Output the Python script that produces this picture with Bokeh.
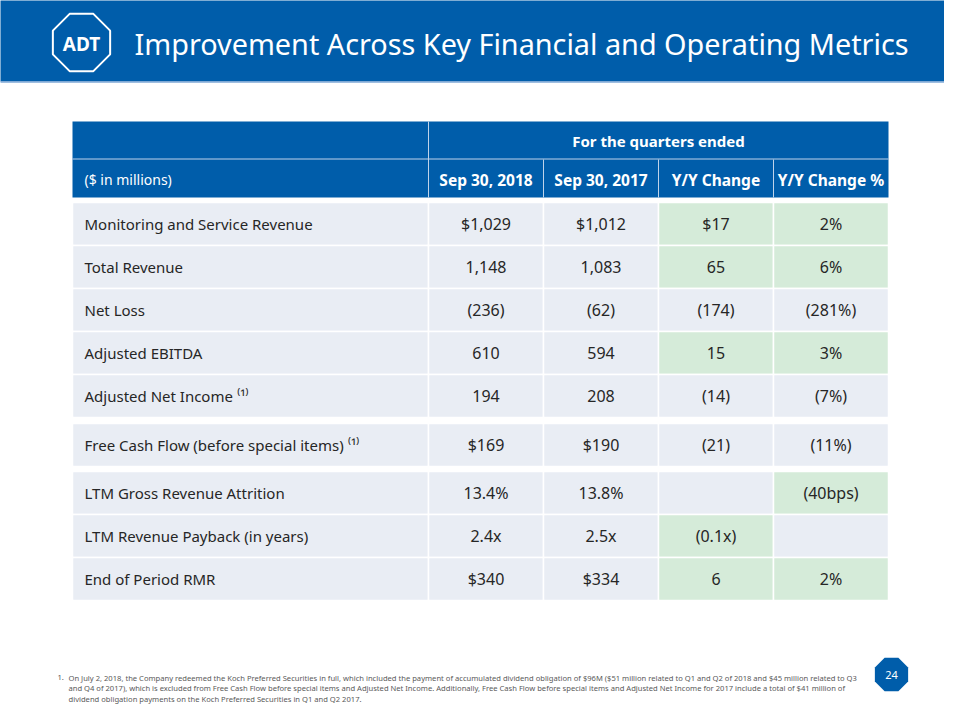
import numpy as np
from bokeh.plotting import figure
from bokeh.models import Range1d, ColumnDataSource
from bokeh.core.properties import value
from bokeh.embed import file_html
from bokeh.resources import INLINE

# ---------------- data ----------------
title = "Improvement Across Key Financial and Operating Metrics"
group_header = "For the quarters ended"
unit_label = "($ in millions)"
col_headers = ["Sep 30, 2018", "Sep 30, 2017", "Y/Y Change", "Y/Y Change %"]
metrics = ["Monitoring and Service Revenue", "Total Revenue", "Net Loss",
           "Adjusted EBITDA", "Adjusted Net Income", "Free Cash Flow (before special items)",
           "LTM Gross Revenue Attrition", "LTM Revenue Payback (in years)", "End of Period RMR"]
note_ref = ["", "", "", "", "(1)", "(1)", "", "", ""]
sep_2018 = ["$1,029", "1,148", "(236)", "610", "194", "$169", "13.4%", "2.4x", "$340"]
sep_2017 = ["$1,012", "1,083", "(62)", "594", "208", "$190", "13.8%", "2.5x", "$334"]
yy_change = ["$17", "65", "(174)", "15", "(14)", "(21)", "", "(0.1x)", "6"]
yy_change_pct = ["2%", "6%", "(281%)", "3%", "(7%)", "(11%)", "(40bps)", "", "2%"]
yy_change_green = [True, True, False, True, False, False, False, True, True]
yy_pct_green = [True, True, False, True, False, False, True, False, True]
row_group = [0, 0, 0, 0, 0, 1, 2, 2, 2]
page_number = "24"
footnote_lines = [
    "On July 2, 2018, the Company redeemed the Koch Preferred Securities in full, which included the payment of accumulated dividend obligation of $96M ($51 million related to Q1 and Q2 of 2018 and $45 million related to Q3",
    "and Q4 of 2017), which is excluded from Free Cash Flow before special items and Adjusted Net Income. Additionally, Free Cash Flow before special items and Adjusted Net Income for 2017 include a total of $41 million of",
    "dividend obligation payments on the Koch Preferred Securities in Q1 and Q2 2017.",
]

# ---------------- style / layout ----------------
FONT = "Noto Sans"
BLUE = "#005DAA"
GRAY = "#E9EDF4"
GREEN = "#D5EBD9"
TXT = "#262626"
col_edges = [72, 428, 543, 658, 773, 888]
head1 = (121, 158)
head2 = (159, 197)
group_starts = [202, 423, 471]
row_h = 43

p = figure(width=944, height=704, x_range=Range1d(0, 944), y_range=Range1d(704, 0),
           output_backend="svg", toolbar_location=None, min_border=0,
           background_fill_color="white", border_fill_color="white")
p.axis.visible = False
p.grid.visible = False
p.outline_line_color = None

# header band
p.quad(left=[-10], right=[980], top=[-10], bottom=[81], fill_color=BLUE, line_color=None)
p.segment(x0=[-10], x1=[980], y0=[81.5], y1=[81.5], line_color="#7FA9D6", line_width=1.5)

def octagon(cx, cy, r):
    ang = np.deg2rad(22.5 + 45 * np.arange(8))
    return cx + r * np.cos(ang), cy + r * np.sin(ang)

lx, ly = octagon(81, 42, 31)
p.patch(lx, ly, fill_color=None, line_color="white", line_width=2)
p.text(x=[81], y=[43], text=["ADT"], text_color="white", text_font=value("Noto Sans"),
       text_font_style="bold", text_font_size="19px", text_align="center",
       text_baseline="middle")
p.text(x=[134], y=[43], text=[title], text_color="white", text_font=value(FONT),
       text_font_size="28.8px", text_align="left", text_baseline="middle")

# table header
p.quad(left=[col_edges[0]], right=[col_edges[-1]], top=[head1[0]], bottom=[head2[1]],
       fill_color=BLUE, line_color=None)
p.segment(x0=[col_edges[0]], x1=[col_edges[-1]], y0=[158.5], y1=[158.5],
          line_color="#BFD3EA", line_width=1)
p.segment(x0=[col_edges[1]], x1=[col_edges[1]], y0=[head1[0]], y1=[head2[1]],
          line_color="#BFD3EA", line_width=1)
p.segment(x0=col_edges[2:5], x1=col_edges[2:5], y0=[head2[0]] * 3, y1=[head2[1]] * 3,
          line_color="#BFD3EA", line_width=1)
p.text(x=[(col_edges[1] + col_edges[-1]) / 2], y=[140], text=[group_header],
       text_color="white", text_font=value(FONT), text_font_style="bold",
       text_font_size="15px", text_align="center", text_baseline="middle")
p.text(x=[84], y=[179], text=[unit_label], text_color="white", text_font=value(FONT),
       text_font_size="14px", text_align="left", text_baseline="middle")
hx = [(col_edges[i] + col_edges[i + 1]) / 2 for i in range(1, 5)]
p.text(x=hx, y=[179] * 4, text=col_headers, text_color="white", text_font=value(FONT),
       text_font_style="bold", text_font_size="15.5px", text_align="center",
       text_baseline="middle")

# body rows
tops, bottoms = [], []
idx_in_group = {}
for i, g in enumerate(row_group):
    k = idx_in_group.get(g, 0)
    idx_in_group[g] = k + 1
    t = group_starts[g] + k * row_h
    tops.append(t)
    bottoms.append(t + row_h)

cl, cr, ct, cb, cf = [], [], [], [], []
for i in range(len(metrics)):
    greens = [False, False, False, yy_change_green[i], yy_pct_green[i]]
    for c in range(5):
        cl.append(col_edges[c]); cr.append(col_edges[c + 1])
        ct.append(tops[i]); cb.append(bottoms[i])
        cf.append(GREEN if greens[c] else GRAY)
p.quad(source=ColumnDataSource(dict(l=cl, r=cr, t=ct, b=cb, f=cf)),
       left="l", right="r", top="t", bottom="b", fill_color="f",
       line_color="white", line_width=1.5)

ymid = [(a + b) / 2 for a, b in zip(tops, bottoms)]
labels = [m + (" ⁽¹⁾" if n else "") for m, n in zip(metrics, note_ref)]
p.text(x=[84] * len(metrics), y=ymid, text=labels, text_color=TXT,
       text_font=value(FONT), text_font_size="15px", text_align="left",
       text_baseline="middle")
for c, vals in enumerate([sep_2018, sep_2017, yy_change, yy_change_pct]):
    p.text(x=[hx[c]] * len(vals), y=ymid, text=vals, text_color=TXT,
           text_font=value(FONT), text_font_size="16px", text_align="center",
           text_baseline="middle")

# footnote
fy = [677, 687.5, 698]
p.text(x=[57], y=[fy[0]], text=["1."], text_color="#595959", text_font=value(FONT),
       text_font_size="7.6px", text_align="left", text_baseline="middle")
p.text(x=[68] * 3, y=fy, text=footnote_lines, text_color="#595959",
       text_font=value(FONT), text_font_size="7.6px", text_align="left",
       text_baseline="middle")

# page badge
bx, by = octagon(891, 674, 18)
p.patch(bx, by, fill_color=BLUE, line_color=None)
p.text(x=[891], y=[674], text=[page_number], text_color="white", text_font=value(FONT),
       text_font_size="11px", text_align="center", text_baseline="middle")

open("out.html", "w").write(file_html(p, INLINE))
